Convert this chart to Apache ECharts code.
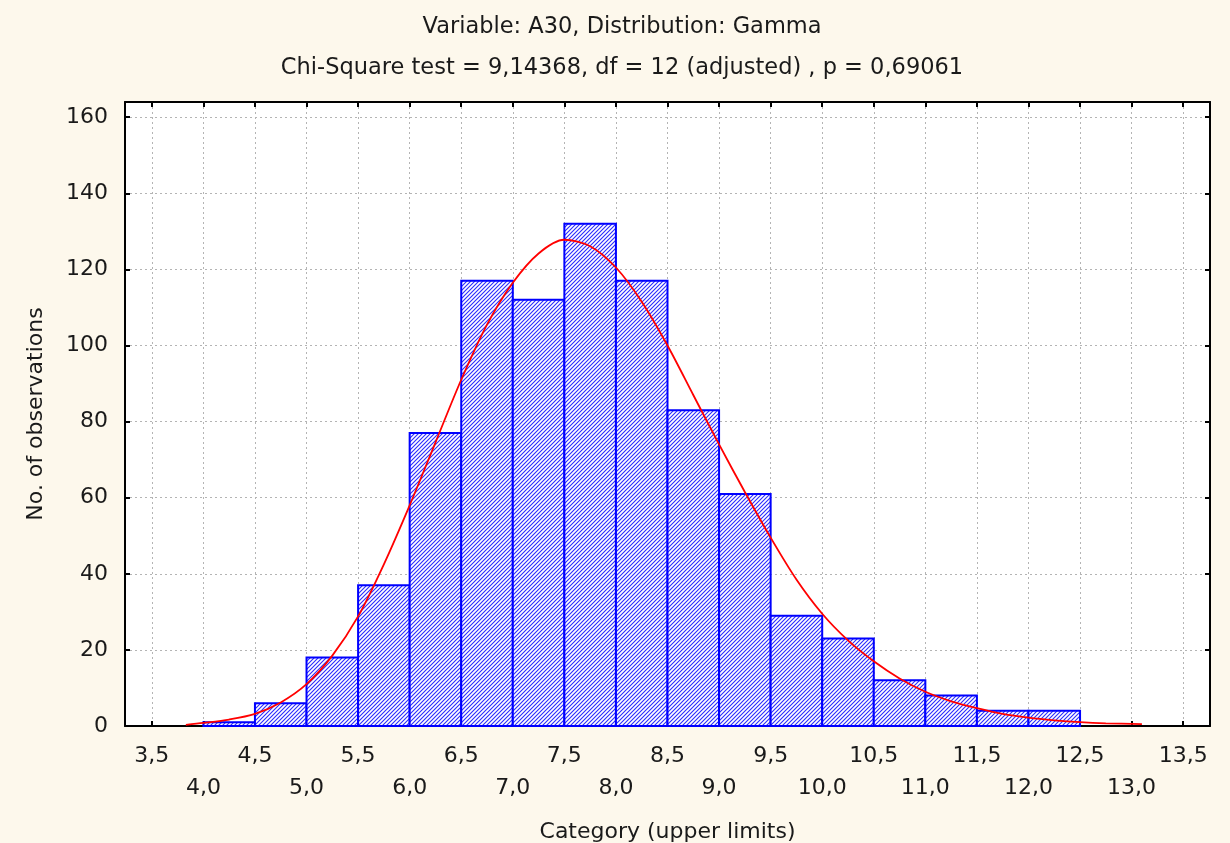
<!DOCTYPE html>
<html>
<head>
<meta charset="utf-8">
<script src="https://cdn.jsdelivr.net/npm/echarts@6/dist/echarts.min.js"></script>
<style>
  html, body { margin: 0; padding: 0; background: #fdf8ec; }
  #chart { width: 1230px; height: 843px; }
</style>
</head>
<body>
<div id="chart"></div>
<script>
// histogram bins (lower/upper edges) and counts
var binLower = [4.0, 4.5, 5.0, 5.5, 6.0, 6.5, 7.0, 7.5, 8.0, 8.5, 9.0, 9.5, 10.0, 10.5, 11.0, 11.5, 12.0];
var binUpper = [4.5, 5.0, 5.5, 6.0, 6.5, 7.0, 7.5, 8.0, 8.5, 9.0, 9.5, 10.0, 10.5, 11.0, 11.5, 12.0, 12.5];
var counts = [1, 6, 18, 37, 77, 117, 112, 132, 117, 83, 61, 29, 23, 12, 8, 4, 4];

// fitted gamma curve
var fitX = [3.83, 4.0, 4.25, 4.5, 4.75, 5.0, 5.25, 5.5, 5.75, 6.0, 6.25, 6.5, 6.75, 7.0, 7.25, 7.5, 7.75,
            8.0, 8.25, 8.5, 8.75, 9.0, 9.25, 9.5, 9.75, 10.0, 10.25, 10.5, 10.75, 11.0, 11.25, 11.5, 11.75,
            12.0, 12.25, 12.5, 12.75, 13.1];
var fitY = [0.3, 0.8, 1.7, 3.2, 6.2, 11.0, 18.5, 28.8, 42.5, 58.0, 74.5, 91.0, 105.5, 116.5, 124.2, 127.8, 126.1,
            120.5, 111.5, 100.0, 87.0, 74.0, 61.5, 49.5, 38.5, 29.5, 22.5, 17.0, 12.5, 9.0, 6.5, 4.7, 3.2,
            2.2, 1.5, 1.0, 0.7, 0.5];

var yTicks = [0, 20, 40, 60, 80, 100, 120, 140, 160];

var txt = '#1a1a1a';
var font = 'DejaVu Sans';

// diagonal hatch tile
function makeHatch() {
    var c = document.createElement('canvas');
    c.width = 4; c.height = 4;
    var ctx = c.getContext('2d');
    ctx.fillStyle = '#ffffff';
    ctx.fillRect(0, 0, 4, 4);
    ctx.strokeStyle = '#2a2aff';
    ctx.lineWidth = 1.1;
    ctx.beginPath();
    ctx.moveTo(0, 4); ctx.lineTo(4, 0);
    ctx.moveTo(-1, 1); ctx.lineTo(1, -1);
    ctx.moveTo(3, 5); ctx.lineTo(5, 3);
    ctx.stroke();
    return c;
}
var hatch = { image: makeHatch(), repeat: 'repeat' };

var bars = binLower.map(function (lo, i) {
    return [lo, binUpper[i], counts[i]];
});
var curve = fitX.map(function (x, i) {
    return [x, fitY[i]];
});

function fmtX(v) {
    var s = v.toFixed(1).replace('.', ',');
    return Math.abs(v - Math.round(v)) < 1e-6 ? '\n' + s : s;
}

var chart = echarts.init(document.getElementById('chart'));

var xBase = {
    type: 'value',
    min: 3.24,
    max: 13.76,
    splitNumber: 21,
    minInterval: 0.5,
    maxInterval: 0.5,
    axisLine: { onZero: false, lineStyle: { color: '#000', width: 2 } },
    axisTick: { inside: true, length: 5, lineStyle: { color: '#000', width: 2 } }
};
var yBase = {
    type: 'value',
    min: 0,
    max: 164,
    interval: 20,
    axisLine: { show: true, lineStyle: { color: '#000', width: 2 } },
    axisTick: { show: true, inside: true, length: 5, lineStyle: { color: '#000', width: 2 } }
};
var gridLine = { show: true, lineStyle: { color: '#b4b4b4', type: [2, 3], width: 1 } };

chart.setOption({
    backgroundColor: '#fdf8ec',
    animation: false,
    title: [
        { text: 'Variable: A30, Distribution: Gamma', left: 617, top: 11, textAlign: 'center',
          textStyle: { fontFamily: font, fontSize: 22.5, fontWeight: 'normal', color: txt } },
        { text: 'Chi-Square test = 9,14368, df = 12 (adjusted) , p = 0,69061', left: 617, top: 52, textAlign: 'center',
          textStyle: { fontFamily: font, fontSize: 22.5, fontWeight: 'normal', color: txt } }
    ],
    grid: {
        left: 125, right: 20, top: 102, bottom: 117,
        outerBoundsMode: 'none',
        containLabel: false,
        show: true, backgroundColor: '#ffffff', borderWidth: 0
    },
    xAxis: [
        Object.assign({}, xBase, {
            position: 'bottom',
            name: 'Category (upper limits)',
            nameLocation: 'middle',
            nameGap: 95,
            nameTextStyle: { fontFamily: font, fontSize: 22, color: txt },
            axisLabel: {
                margin: 14, lineHeight: 32, fontFamily: font, fontSize: 22, color: txt,
                showMinLabel: false, showMaxLabel: false, formatter: fmtX
            },
            splitLine: gridLine
        }),
        Object.assign({}, xBase, {
            position: 'top',
            axisLabel: { show: false },
            splitLine: { show: false }
        })
    ],
    yAxis: [
        Object.assign({}, yBase, {
            position: 'left',
            name: 'No. of observations',
            nameLocation: 'middle',
            nameGap: 78,
            nameTextStyle: { fontFamily: font, fontSize: 22, color: txt },
            axisLabel: {
                margin: 17, fontFamily: font, fontSize: 22, color: txt, showMaxLabel: false,
                formatter: function (v) { return yTicks.indexOf(v) >= 0 ? String(v) : ''; }
            },
            splitLine: gridLine
        }),
        Object.assign({}, yBase, {
            position: 'right',
            axisLabel: { show: false },
            splitLine: { show: false }
        })
    ],
    series: [
        {
            type: 'custom',
            name: 'Observed',
            xAxisIndex: 0,
            yAxisIndex: 0,
            data: bars,
            encode: { x: [0, 1], y: 2 },
            renderItem: function (params, api) {
                var p0 = api.coord([api.value(0), api.value(2)]);
                var p1 = api.coord([api.value(1), 0]);
                return {
                    type: 'rect',
                    shape: { x: p0[0], y: p0[1], width: p1[0] - p0[0], height: p1[1] - p0[1] },
                    style: { fill: hatch, stroke: '#0000ff', lineWidth: 2 }
                };
            }
        },
        {
            type: 'line',
            name: 'Expected',
            xAxisIndex: 0,
            yAxisIndex: 0,
            data: curve,
            smooth: 0.3,
            showSymbol: false,
            symbol: 'none',
            lineStyle: { color: '#ff0000', width: 1.8 },
            z: 5
        }
    ]
});
</script>
</body>
</html>
